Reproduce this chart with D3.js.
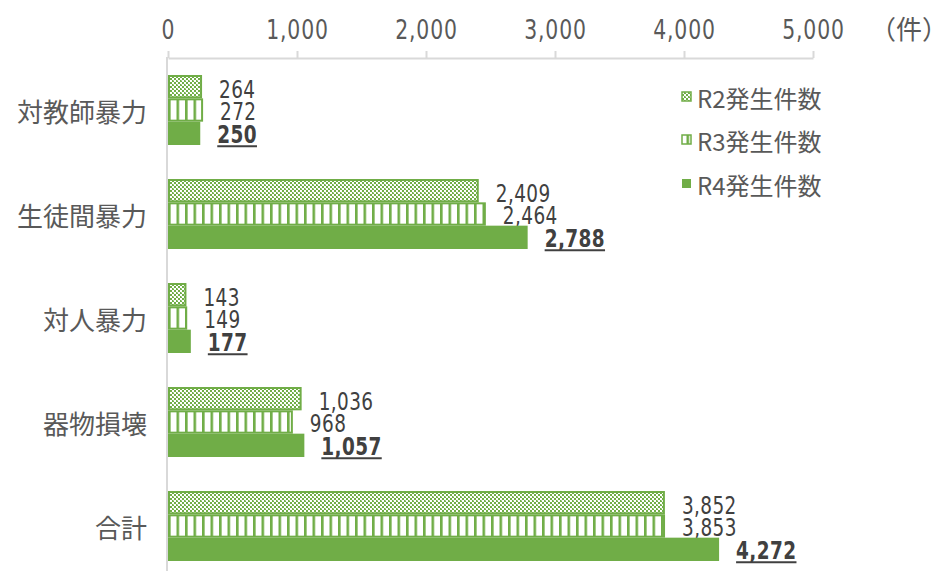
<!DOCTYPE html>
<html><head><meta charset="utf-8">
<script src="https://cdn.jsdelivr.net/npm/d3@7"></script>
<style>body{margin:0;background:#fff}svg{display:block}</style>
</head><body>
<svg id="c" width="951" height="571"></svg>
<script>
const categories = ["対教師暴力","生徒間暴力","対人暴力","器物損壊","合計"];
const seriesNames = ["R2発生件数","R3発生件数","R4発生件数"];
const r2 = [264, 2409, 143, 1036, 3852];
const r3 = [272, 2464, 149, 968, 3853];
const r4 = [250, 2788, 177, 1057, 4272];
const xTicks = [0,1000,2000,3000,4000,5000];
const unitLabel = "（件）";

const svg = d3.select("#c");
const green = "#70AD47";
const numFont = "'DejaVu Sans Condensed','DejaVu Sans',sans-serif";
const jpFont = "'Noto Sans CJK JP','Noto Sans',sans-serif";

const defs = svg.append("defs");
const p1 = defs.append("pattern").attr("id","chk").attr("patternUnits","userSpaceOnUse").attr("width",4).attr("height",4);
p1.append("rect").attr("width",4).attr("height",4).attr("fill","#fff");
p1.append("rect").attr("width",2).attr("height",2).attr("fill",green);
p1.append("rect").attr("x",2).attr("y",2).attr("width",2).attr("height",2).attr("fill",green);
p1.append("rect").attr("x",1).attr("y",0).attr("width",1).attr("height",1).attr("fill","#a9cf8f");
const p2 = defs.append("pattern").attr("id","vln").attr("patternUnits","userSpaceOnUse").attr("width",8.5).attr("height",10).attr("x",168);
p2.append("rect").attr("width",8.5).attr("height",10).attr("fill","#fff");
p2.append("rect").attr("x",0).attr("width",2.6).attr("height",10).attr("fill",green);

const x = d3.scaleLinear().domain([0,5000]).range([168,813]);
const y = d3.scaleBand().domain(categories).range([58,578]).paddingInner(0.327).paddingOuter(0.1635);
const ys = d3.scaleBand().domain(seriesNames).range([0,y.bandwidth()]);

// axes
const ax = svg.append("g").attr("transform","translate(0,58)")
  .call(d3.axisTop(x).tickValues(xTicks).tickSize(7).tickSizeOuter(0).tickPadding(12).tickFormat(d3.format(",")));
ax.select(".domain").attr("stroke","#d9d9d9").attr("stroke-width",2);
ax.selectAll(".tick line").attr("stroke","#d9d9d9").attr("stroke-width",2);
ax.selectAll(".tick text").attr("fill","#595959").attr("font-family",numFont).attr("font-size",27)
  .attr("letter-spacing",1).attr("transform","scale(0.84,1)");
svg.append("line").attr("x1",167).attr("x2",167).attr("y1",57).attr("y2",571).attr("stroke","#d9d9d9").attr("stroke-width",2);

svg.append("text").attr("x",948).attr("y",39).attr("text-anchor","end").attr("fill","#595959")
  .attr("font-family",jpFont).attr("font-size",26).text(unitLabel);

// category labels
svg.append("g").selectAll("text").data(categories).join("text")
  .attr("x",147).attr("y",d=>y(d)+y.bandwidth()/2).attr("dominant-baseline","central")
  .attr("text-anchor","end").attr("fill","#595959").attr("font-family",jpFont).attr("font-size",26).text(d=>d);

const series = [
  {name:seriesNames[0], vals:r2, fill:"url(#chk)", stroke:green},
  {name:seriesNames[1], vals:r3, fill:"url(#vln)", stroke:green},
  {name:seriesNames[2], vals:r4, fill:green, stroke:"none"}
];
const fmt = d3.format(",");
series.forEach((s,si)=>{
  const g = svg.append("g");
  g.selectAll("rect").data(s.vals).join("rect")
    .attr("x",x(0)+ (s.stroke==="none"?0:1))
    .attr("y",(d,i)=>y(categories[i])+ys(s.name)+(s.stroke==="none"?0:1))
    .attr("width",d=>x(d)-x(0)-(s.stroke==="none"?0:2))
    .attr("height",ys.bandwidth()-(s.stroke==="none"?0:2))
    .attr("fill",s.fill).attr("stroke",s.stroke).attr("stroke-width",s.stroke==="none"?0:2);
  const lg = g.selectAll("g.lab").data(s.vals).join("g").attr("class","lab")
    .attr("transform",(d,i)=>`translate(${x(d)+17},${y(categories[i])+ys(s.name)+ys.bandwidth()/2+(si===0?11:10)})`);
  lg.append("text").attr("transform","scale(0.82,1)")
    .attr("fill","#404040").attr("font-family",numFont).attr("font-size",25).attr("letter-spacing",0.5)
    .attr("font-weight",si===2?"bold":"normal").text(d=>fmt(d));
  if(si===2){
    lg.each(function(){
      const t = d3.select(this).select("text").node();
      const w = t.getComputedTextLength()*0.82;
      d3.select(this).append("line").attr("x1",0).attr("x2",w).attr("y1",3).attr("y2",3)
        .attr("stroke","#404040").attr("stroke-width",2);
    });
  }
});

// legend
const legY = [97,140,184];
const lgd = svg.append("g");
series.forEach((s,i)=>{
  lgd.append("rect").attr("x",682).attr("y",legY[i]-5).attr("width",9).attr("height",9)
    .attr("fill",s.fill).attr("stroke",s.stroke).attr("stroke-width",s.stroke==="none"?0:1.5);
  lgd.append("text").attr("x",697).attr("y",legY[i]).attr("dominant-baseline","central")
    .attr("fill","#595959").attr("font-family",jpFont).attr("font-size",24).text(s.name);
});
</script>
</body></html>
